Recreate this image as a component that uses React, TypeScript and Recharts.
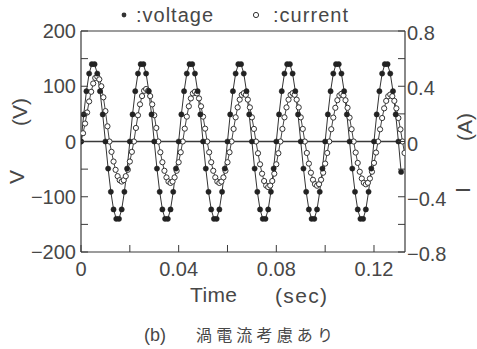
import React from 'react';
import { LineChart, Line, XAxis, YAxis, ReferenceLine } from 'recharts';

// Sampling intervals (s)
const VOLTAGE_DT = 1 / 900;
const CURRENT_DT = 1 / 1200;

// Voltage samples (V), filled dots
const VOLTAGE = [
  0, 49, 91, 123, 140, 140, 123, 91, 49, 0, -49, -91, -123, -140, -140, -123, -91, -49,
  0, 49, 91, 123, 140, 140, 123, 91, 49, 0, -49, -91, -123, -140, -140, -123, -91, -49,
  0, 49, 91, 123, 140, 140, 123, 91, 49, 0, -49, -91, -123, -140, -140, -123, -91, -49,
  0, 49, 91, 123, 140, 140, 123, 91, 49, 0, -49, -91, -123, -140, -140, -123, -91, -49,
  0, 49, 91, 123, 140, 140, 123, 91, 49, 0, -49, -91, -123, -140, -140, -123, -91, -49,
  0, 49, 91, 123, 140, 140, 123, 91, 49, 0, -49, -91, -123, -140, -140, -123, -91, -49,
  0, 49, 91, 123, 140, 140, 123, 91, 49, 0, -55,
];

// Current samples (A), open circles
const CURRENT = [
  0, 0.06, 0.13, 0.21, 0.29, 0.36, 0.42, 0.46, 0.47, 0.45, 0.4, 0.32, 0.22, 0.11, 0,
  -0.075, -0.145, -0.205, -0.251, -0.28, -0.29, -0.28, -0.251, -0.205, -0.145, -0.075, 0,
  0.098, 0.19, 0.269, 0.329, 0.367, 0.38, 0.367, 0.329, 0.269, 0.19, 0.098, 0,
  -0.078, -0.15, -0.212, -0.26, -0.29, -0.3, -0.29, -0.26, -0.212, -0.15, -0.078, 0,
  0.093, 0.18, 0.255, 0.312, 0.348, 0.36, 0.348, 0.312, 0.255, 0.18, 0.093, 0,
  -0.078, -0.15, -0.212, -0.26, -0.29, -0.3, -0.29, -0.26, -0.212, -0.15, -0.078, 0,
  0.091, 0.175, 0.247, 0.303, 0.338, 0.35, 0.338, 0.303, 0.247, 0.175, 0.091, 0,
  -0.085, -0.165, -0.233, -0.286, -0.319, -0.33, -0.319, -0.286, -0.233, -0.165, -0.085, 0,
  0.091, 0.175, 0.247, 0.303, 0.338, 0.35, 0.338, 0.303, 0.247, 0.175, 0.091, 0,
  -0.083, -0.16, -0.226, -0.277, -0.309, -0.32, -0.309, -0.277, -0.226, -0.16, -0.083, 0,
  0.089, 0.173, 0.244, 0.299, 0.333, 0.345, 0.333, 0.299, 0.244, 0.173, 0.089, 0,
  -0.08, -0.155, -0.219, -0.268, -0.299, -0.31, -0.299, -0.268, -0.219, -0.155, -0.08, 0,
  0.088, 0.17, 0.24, 0.294, 0.328, 0.34, 0.328, 0.294, 0.24, 0.17, 0.088, 0,
  -0.083,
];

const X_TICKS = [0, 0.02, 0.04, 0.06, 0.08, 0.1, 0.12];
const X_TICK_LABELS = ['0', '', '0.04', '', '0.08', '', '0.12'];
const V_TICKS = [-200, -150, -100, -50, 0, 50, 100, 150, 200];
const V_TICK_LABELS = ['−200', '', '−100', '', '0', '', '100', '', '200'];
const I_TICKS = [-0.8, -0.6, -0.4, -0.2, 0, 0.2, 0.4, 0.6, 0.8];
const I_TICK_LABELS = ['−0.8', '', '−0.4', '', '0', '', '0.4', '', '0.8'];

const voltageData = VOLTAGE.map((v, k) => ({ t: k * VOLTAGE_DT, v }));
const currentData = CURRENT.map((i, k) => ({ t: k * CURRENT_DT, i }));

const INK = '#3a3a3a';
const TEXT = '#474747';
const FONT = "'Liberation Sans', Arial, sans-serif";

const labelFor = (ticks: number[], labels: string[], value: number) => {
  let best = 0;
  ticks.forEach((t, idx) => {
    if (Math.abs(t - value) < Math.abs(ticks[best] - value)) best = idx;
  });
  return labels[best];
};

const BottomTick = (props: any) => {
  const { x, y, payload } = props;
  const label = labelFor(X_TICKS, X_TICK_LABELS, payload.value);
  return (
    <g>
      <line x1={x} y1={y} x2={x} y2={y - 7} stroke={INK} strokeWidth={1} />
      {label && (
        <text x={x} y={y + 24} textAnchor="middle" fontSize={20} fontFamily={FONT} fill={TEXT}>
          {label}
        </text>
      )}
    </g>
  );
};

const LeftTick = (props: any) => {
  const { x, y, payload } = props;
  const label = labelFor(V_TICKS, V_TICK_LABELS, payload.value);
  return (
    <g>
      <line x1={x} y1={y} x2={x + 7} y2={y} stroke={INK} strokeWidth={1} />
      {label && (
        <text x={x - 5} y={y + 7} textAnchor="end" fontSize={20} fontFamily={FONT} fill={TEXT}>
          {label}
        </text>
      )}
    </g>
  );
};

const RightTick = (props: any) => {
  const { x, y, payload } = props;
  const label = labelFor(I_TICKS, I_TICK_LABELS, payload.value);
  return (
    <g>
      <line x1={x - 7} y1={y} x2={x} y2={y} stroke={INK} strokeWidth={1} />
      {label && (
        <text x={x + 2} y={y + 9} textAnchor="start" fontSize={20} fontFamily={FONT} fill={TEXT}>
          {label}
        </text>
      )}
    </g>
  );
};

export default function App() {
  return (
    <div style={{ position: 'absolute', left: 0, top: 0, width: 477, height: 349, background: '#fff' }}>
      <LineChart width={477} height={349} margin={{ top: 31, right: 32, bottom: 67, left: 41 }}>
        <XAxis
          type="number"
          dataKey="t"
          domain={[0, 0.1327]}
          ticks={X_TICKS}
          interval={0}
          allowDataOverflow
          height={30}
          tickSize={0}
          tickMargin={0}
          tickLine={false}
          axisLine={{ stroke: INK, strokeWidth: 1.2 }}
          tick={<BottomTick />}
        />
        <YAxis
          yAxisId="v"
          domain={[-200, 200]}
          ticks={V_TICKS}
          interval={0}
          allowDataOverflow
          width={40}
          tickSize={0}
          tickMargin={0}
          tickLine={false}
          axisLine={{ stroke: INK, strokeWidth: 1.2 }}
          tick={<LeftTick />}
        />
        <YAxis
          yAxisId="i"
          orientation="right"
          domain={[-0.8, 0.8]}
          ticks={I_TICKS}
          interval={0}
          allowDataOverflow
          width={40}
          tickSize={0}
          tickMargin={0}
          tickLine={false}
          axisLine={{ stroke: INK, strokeWidth: 1.2 }}
          tick={<RightTick />}
        />
        <ReferenceLine yAxisId="v" y={200} stroke={INK} strokeWidth={1.2} ifOverflow="extendDomain" />
        <ReferenceLine yAxisId="v" y={0} stroke={INK} strokeWidth={1.3} />
        <Line
          yAxisId="i"
          data={currentData}
          dataKey="i"
          type="linear"
          stroke="#444"
          strokeWidth={1}
          isAnimationActive={false}
          dot={{ r: 2.6, fill: '#fff', stroke: '#333', strokeWidth: 1 }}
        />
        <Line
          yAxisId="v"
          data={voltageData}
          dataKey="v"
          type="linear"
          stroke="#333"
          strokeWidth={1}
          isAnimationActive={false}
          dot={{ r: 2.6, fill: '#222', stroke: '#222', strokeWidth: 0.5 }}
        />
      </LineChart>
      <svg
        width={477}
        height={349}
        style={{ position: 'absolute', left: 0, top: 0, pointerEvents: 'none' }}
      >
        <g fontFamily={FONT} fill={TEXT}>
          <circle cx={124} cy={15} r={2.4} fill="#333" />
          <text x={136} y={22} fontSize={20} textLength={77} lengthAdjust="spacing">:voltage</text>
          <circle cx={256} cy={15} r={2.6} fill="#fff" stroke="#333" strokeWidth={1} />
          <text x={273} y={22} fontSize={20} textLength={75} lengthAdjust="spacing">:current</text>

          <text x={190} y={302} fontSize={21} textLength={47} lengthAdjust="spacing">Time</text>
          <text x={275} y={303} fontSize={21} textLength={52} lengthAdjust="spacing">(sec)</text>

          <text x={16} y={177} fontSize={21} textAnchor="middle" dominantBaseline="central" transform="rotate(-90 16 177)">V</text>
          <text x={19} y={112} fontSize={21} textAnchor="middle" dominantBaseline="central" transform="rotate(-90 19 112)">(V)</text>

          <text x={462} y={190} fontSize={21} textAnchor="middle" dominantBaseline="central" transform="rotate(-90 462 190)">I</text>
          <text x={464} y={127} fontSize={21} textAnchor="middle" dominantBaseline="central" transform="rotate(-90 464 127)">(A)</text>

          <text x={144} y={341} fontSize={18}>(b)</text>
          <text x={196} y={341} fontSize={16} fontFamily="'Noto Sans CJK JP', sans-serif" textLength={137} lengthAdjust="spacing">渦電流考慮あり</text>
        </g>
      </svg>
    </div>
  );
}
